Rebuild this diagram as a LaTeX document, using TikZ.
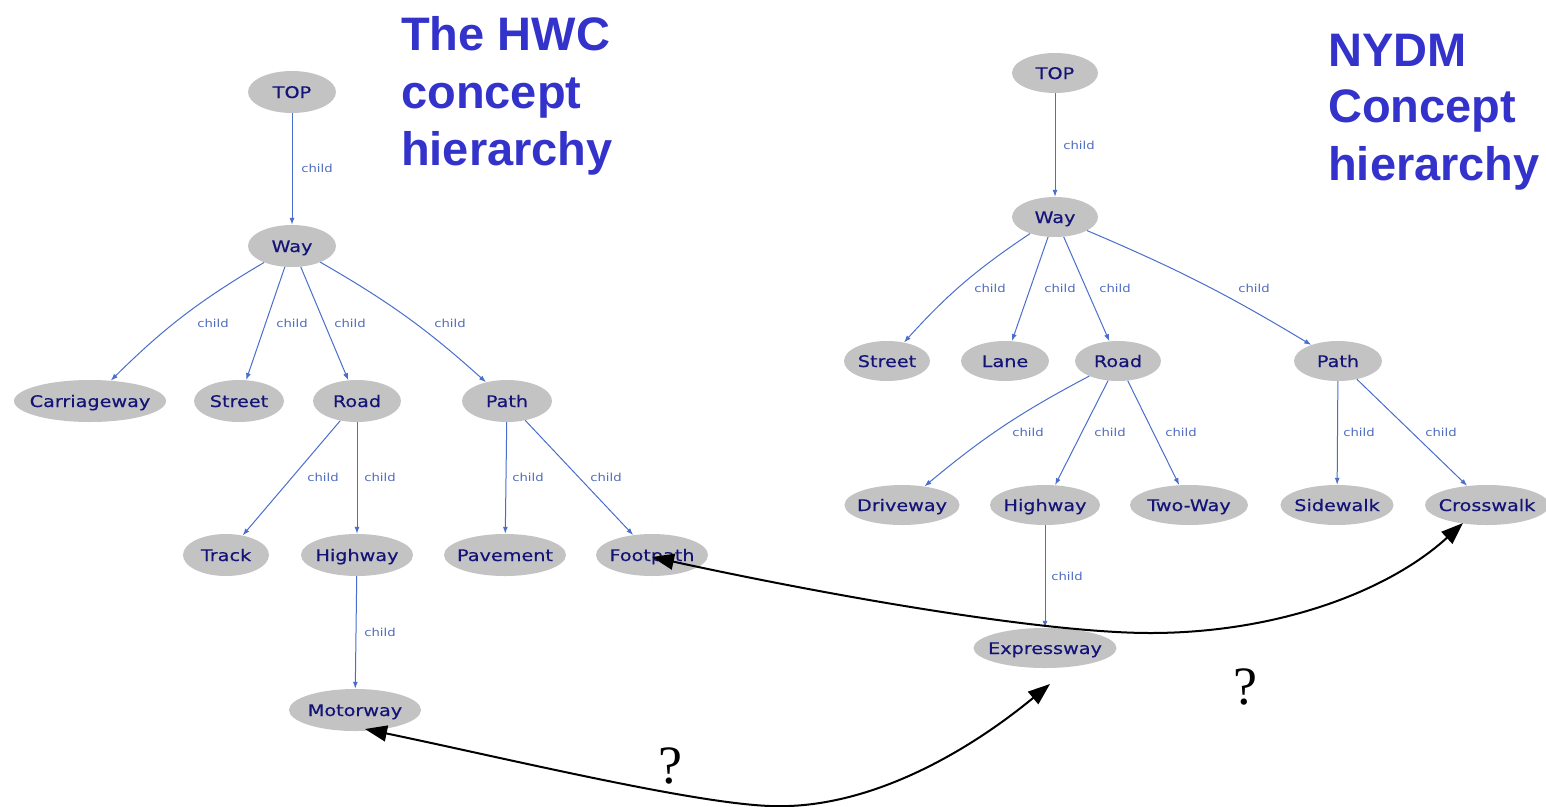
\documentclass[tikz,border=0pt]{standalone}
\usepackage{fontspec}
\usetikzlibrary{shapes.geometric,arrows.meta,calc}
\newfontfamily\conceptfont[FakeStretch=1.2,FakeBold=0.4]{DejaVu Sans}
\newfontfamily\edgefont[FakeStretch=1.2]{DejaVu Sans}
\newfontfamily\headfont{Liberation Sans}
\newfontfamily\markfont{Liberation Serif}
\newcommand\nolen[1]{\makebox[0pt]{#1}}
\definecolor{conceptfill}{RGB}{195,195,195}
\definecolor{conceptink}{RGB}{20,20,120}
\definecolor{edgeblue}{RGB}{74,110,205}
\definecolor{labelblue}{RGB}{80,110,190}
\definecolor{titleblue}{RGB}{51,51,204}
\begin{document}
\begin{tikzpicture}[x=1pt,y=-1pt,
  concept/.style={ellipse, fill=conceptfill, draw=none, inner sep=0pt,
    minimum height=42, minimum width=#1, text=conceptink,
    text height=12, text depth=0,
    font=\conceptfont\fontsize{16}{19}\selectfont},
  rconcept/.style={concept=#1, minimum height=40},
  childedge/.style={draw=edgeblue, line width=1pt, -{Latex[length=7pt,width=5pt]}},
  lbl/.style={text=labelblue, inner sep=0pt, font=\edgefont\fontsize{11}{13}\selectfont},
  head/.style={anchor=base west, inner sep=0pt, text=titleblue,
    font=\headfont\bfseries\fontsize{47}{57}\selectfont},
  qmark/.style={anchor=base, inner sep=0pt, font=\markfont\fontsize{54}{60}\selectfont},
  link/.style={draw=black, line width=2pt,
    {Triangle[length=22pt,width=16pt]}-{Triangle[length=22pt,width=16pt]}}
]
\useasboundingbox (0,0) rectangle (1546,806);
\fill[white] (0,0) rectangle (1546,806);

% ---- titles
\node[head] (ht1) at (401,50) {The HWC};
\node[head] (ht2) at (401,108) {concept};
\node[head] (ht3) at (401,165) {hierarchy};
\node[head] (nt1) at (1328,66) {NYDM};
\node[head] (nt2) at (1328,122) {Concept};
\node[head] (nt3) at (1328,180) {hierarchy};

% ---- HWC hierarchy
\node[concept=88]  (ltop)    at (292,92)  {\nolen{TOP}};
\node[concept=88]  (lway)    at (292,246) {\nolen{Way}};
\node[concept=152] (lcar)    at (90,401)  {\nolen{Carriageway}};
\node[concept=90]  (lstreet) at (239,401) {\nolen{Street}};
\node[concept=88]  (lroad)   at (357,401) {\nolen{Road}};
\node[concept=90]  (lpath)   at (507,401) {\nolen{Path}};
\node[concept=86]  (ltrack)  at (226,555) {\nolen{Track}};
\node[concept=112] (lhigh)   at (357,555) {\nolen{Highway}};
\node[concept=122] (lpave)   at (505,555) {\nolen{Pavement}};
\node[concept=112] (lfoot)   at (652,555) {\nolen{Footpath}};
\node[concept=132] (lmotor)  at (355,710) {\nolen{Motorway}};

\draw[childedge] (ltop) -- (lway);
\draw[childedge] (lway) to[bend right=7] (lcar);
\draw[childedge] (lway) -- (lstreet);
\draw[childedge] (lway) -- (lroad);
\draw[childedge] (lway) to[bend left=6] (lpath);
\draw[childedge] (lroad) -- (ltrack);
\draw[childedge] (lroad) -- (lhigh);
\draw[childedge] (lpath) -- (lpave);
\draw[childedge] (lpath) -- (lfoot);
\draw[childedge] (lhigh) -- (lmotor);

\node[lbl] (la1) at (317,168) {child};
\node[lbl] (la2) at (213,323) {child};
\node[lbl] (la3) at (292,323) {child};
\node[lbl] (la4) at (350,323) {child};
\node[lbl] (la5) at (450,323) {child};
\node[lbl] (la6) at (323,477) {child};
\node[lbl] (la7) at (380,477) {child};
\node[lbl] (la8) at (528,477) {child};
\node[lbl] (la9) at (606,477) {child};
\node[lbl] (la10) at (380,632) {child};

% ---- NYDM hierarchy
\node[rconcept=86]  (rtop)    at (1055,73)  {\nolen{TOP}};
\node[rconcept=86]  (rway)    at (1055,217) {\nolen{Way}};
\node[rconcept=86]  (rstreet) at (887,361)  {\nolen{Street}};
\node[rconcept=88]  (rlane)   at (1005,361) {\nolen{Lane}};
\node[rconcept=86]  (rroad)   at (1118,361) {\nolen{Road}};
\node[rconcept=88]  (rpath)   at (1338,361) {\nolen{Path}};
\node[rconcept=115] (rdrive)  at (902,505)  {\nolen{Driveway}};
\node[rconcept=110] (rhigh)   at (1045,505) {\nolen{Highway}};
\node[rconcept=118] (rtwo)    at (1189,505) {\nolen{Two-Way}};
\node[rconcept=113] (rside)   at (1337,505) {\nolen{Sidewalk}};
\node[rconcept=124] (rcross)  at (1487,505) {\nolen{Crosswalk}};
\node[rconcept=143] (rexp)    at (1045,648) {\nolen{Expressway}};

\draw[childedge] (rtop) -- (rway);
\draw[childedge] (rway) to[bend right=7] (rstreet);
\draw[childedge] (rway) -- (rlane);
\draw[childedge] (rway) -- (rroad);
\draw[childedge] (rway) to[bend left=4] (rpath);
\draw[childedge] (rroad) to[bend right=6] (rdrive);
\draw[childedge] (rroad) -- (rhigh);
\draw[childedge] (rroad) -- (rtwo);
\draw[childedge] (rpath) -- (rside);
\draw[childedge] (rpath) -- (rcross);
\draw[childedge] (rhigh) -- (rexp);

\node[lbl] (ra1) at (1079,145) {child};
\node[lbl] (ra2) at (990,288)  {child};
\node[lbl] (ra3) at (1060,288) {child};
\node[lbl] (ra4) at (1115,288) {child};
\node[lbl] (ra5) at (1254,288) {child};
\node[lbl] (ra6) at (1028,432) {child};
\node[lbl] (ra7) at (1110,432) {child};
\node[lbl] (ra8) at (1181,432) {child};
\node[lbl] (ra9) at (1359,432) {child};
\node[lbl] (ra10) at (1441,432) {child};
\node[lbl] (ra11) at (1067,576) {child};

% ---- open correspondences between the two hierarchies
\coordinate (tipmotor) at ($(lmotor.center)+(10,19)$);
\coordinate (tipexp)   at ($(rexp.center)+(5,36)$);
\coordinate (tipfoot)  at ($(lfoot.center)+(0,2)$);
\coordinate (tipcross) at ($(rcross.center)+(-24,18)$);

\draw[link] (tipmotor) .. controls (500,757) and (690,803) .. (770,806)
  .. controls (870,810) and (970,750) .. (tipexp);
\draw[link] (tipfoot) .. controls (850,600) and (1050,633) .. (1150,633)
  .. controls (1280,633) and (1390,590) .. (tipcross);

\node[qmark] (q1) at (670,783) {?};
\node[qmark] (q2) at (1245,704) {?};
\end{tikzpicture}
\end{document}
